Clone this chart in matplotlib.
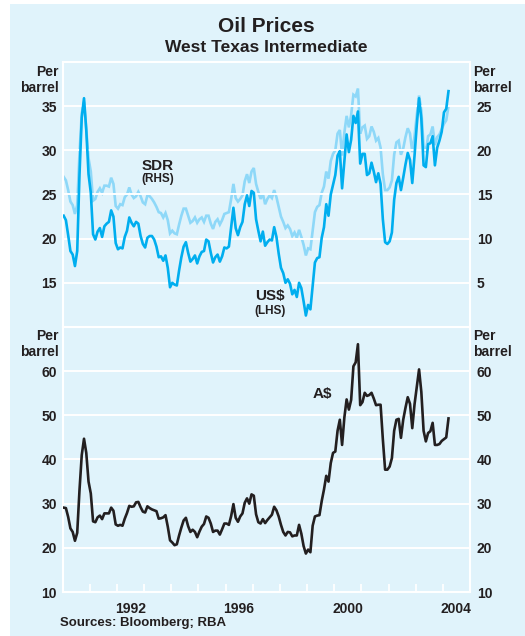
import matplotlib
matplotlib.use('Agg')
import matplotlib.pyplot as plt
import numpy as np
from matplotlib.patches import Rectangle

plt.rcParams['font.family'] = ['Liberation Sans', 'DejaVu Sans']
plt.rcParams['font.weight'] = 'bold'

# ---------------- data (monthly, Jan 1990 - Mar 2004) ----------------
start_year = 1990
us_dollar = [
    22.6, 22.1, 20.4, 18.6, 18.2, 16.9, 18.6, 27.2, 33.7, 35.9, 32.3, 27.3,
    25.2, 20.5, 19.9, 20.8, 21.2, 20.2, 21.4, 21.7, 21.9, 23.2, 22.5, 19.5,
    18.8, 19.0, 18.9, 20.2, 20.9, 22.4, 21.8, 21.4, 21.9, 21.7, 20.3, 19.4,
    19.0, 20.1, 20.3, 20.3, 19.9, 19.1, 17.9, 18.0, 17.5, 18.1, 16.7, 14.5,
    15.0, 14.8, 14.7, 16.4, 17.9, 19.1, 19.6, 18.4, 17.4, 17.7, 18.1, 17.2,
    18.0, 18.5, 18.6, 19.9, 19.7, 18.4, 17.3, 17.9, 18.2, 17.4, 18.0, 19.0,
    18.9, 19.1, 21.3, 23.5, 21.2, 20.4, 21.3, 21.9, 23.9, 24.9, 23.7, 25.4,
    25.2, 22.2, 20.9, 19.7, 20.8, 19.2, 19.6, 19.9, 19.8, 21.3, 20.2, 18.3,
    16.7, 16.1, 15.0, 15.4, 14.9, 13.7, 14.2, 13.4, 15.0, 14.4, 12.9, 11.3,
    12.5, 12.0, 14.7, 17.3, 17.8, 17.9, 20.1, 21.3, 23.9, 22.6, 25.0, 26.1,
    27.2, 29.4, 29.9, 25.7, 28.8, 31.8, 29.8, 31.2, 33.9, 33.1, 34.4, 28.5,
    29.6, 29.6, 27.2, 27.4, 28.6, 27.6, 26.4, 27.4, 26.2, 22.2, 19.6, 19.4,
    19.7, 20.7, 24.4, 26.3, 27.0, 25.5, 26.9, 28.4, 29.7, 28.9, 26.3, 29.4,
    32.9, 35.9, 33.6, 28.3, 28.1, 30.7, 30.8, 31.6, 28.3, 30.3, 31.1, 32.1,
    34.3, 34.7, 36.7,
]
sdr = [
    17.0, 16.6, 15.5, 14.2, 13.8, 12.8, 13.8, 19.6, 24.2, 25.5, 22.4, 19.1,
    17.6, 14.3, 14.5, 15.3, 15.7, 15.2, 16.0, 16.0, 15.9, 16.9, 16.2, 13.7,
    13.4, 13.9, 13.8, 14.7, 15.0, 15.8, 15.0, 14.6, 14.8, 15.3, 14.8, 14.1,
    13.9, 14.9, 14.8, 14.5, 14.1, 13.6, 13.0, 12.9, 12.4, 12.9, 12.1, 10.6,
    10.9, 10.6, 10.5, 11.6, 12.6, 13.4, 13.4, 12.6, 11.8, 12.0, 12.4, 11.8,
    12.2, 12.4, 11.9, 12.6, 12.6, 11.7, 11.1, 11.9, 12.2, 11.6, 12.1, 12.8,
    12.9, 13.0, 14.5, 16.2, 14.6, 14.2, 14.5, 14.9, 16.5, 17.3, 16.3, 17.6,
    18.0, 16.2, 15.3, 14.5, 15.1, 13.9, 14.5, 14.9, 14.6, 15.5, 14.7, 13.6,
    12.5, 11.9, 11.2, 11.5, 11.1, 10.3, 10.7, 10.1, 11.0, 10.2, 9.3, 8.1,
    8.9, 8.8, 10.9, 13.0, 13.6, 13.8, 15.2, 15.9, 17.6, 16.8, 18.8, 19.6,
    20.0, 21.9, 22.3, 19.4, 22.0, 23.9, 22.6, 24.0, 26.3, 26.1, 27.0, 21.9,
    22.6, 22.8, 21.3, 21.6, 22.7, 22.1, 21.1, 21.4, 20.3, 17.3, 15.5, 15.5,
    15.8, 16.6, 19.5, 20.9, 21.1, 19.5, 20.2, 21.5, 22.5, 21.9, 19.8, 21.6,
    24.0, 26.2, 24.5, 20.5, 19.8, 21.6, 21.8, 22.7, 20.6, 21.5, 21.8, 22.4,
    23.0, 23.4, 25.0,
]
a_dollar = [
    29.1, 29.0, 27.0, 24.4, 23.6, 21.6, 23.4, 33.0, 41.0, 44.7, 41.5, 35.0,
    32.3, 26.0, 25.8, 26.9, 27.3, 26.5, 27.8, 27.8, 27.8, 29.1, 28.4, 25.3,
    25.0, 25.2, 25.0, 26.6, 27.9, 29.5, 29.3, 29.4, 30.3, 30.4, 29.2, 28.2,
    28.0, 29.4, 29.0, 28.7, 28.5, 28.3, 26.6, 26.7, 26.9, 27.4, 24.8, 21.7,
    21.2, 20.6, 20.8, 22.8, 24.6, 26.2, 26.8, 24.9, 23.6, 24.1, 23.6, 22.4,
    23.7, 24.8, 25.4, 27.1, 26.8, 25.5, 23.6, 23.9, 23.9, 23.0, 24.2, 25.5,
    25.5, 25.2, 27.2, 29.9, 26.8, 25.9, 27.1, 27.8, 30.2, 31.2, 30.0, 32.1,
    31.8, 27.6, 25.8, 25.5, 26.5, 25.6, 26.3, 26.9, 27.5, 29.3, 28.5, 27.1,
    25.2, 23.6, 22.8, 23.6, 23.5, 22.6, 22.8, 22.8, 25.2, 23.2, 20.4, 18.7,
    19.6, 19.0, 25.0, 27.1, 27.3, 27.4, 30.6, 33.2, 36.3, 35.0, 39.2, 41.5,
    41.8, 46.5, 49.0, 43.3, 49.5, 53.6, 51.3, 53.5, 61.1, 62.0, 66.1, 52.3,
    53.0, 55.1, 54.4, 54.6, 55.1, 53.8, 52.3, 52.4, 52.4, 44.6, 37.7, 37.7,
    38.4, 40.3, 46.5, 49.0, 49.2, 44.9, 49.0, 51.7, 54.1, 52.6, 47.1, 52.5,
    56.5, 60.4, 55.3, 46.5, 44.1, 46.0, 46.4, 48.3, 43.3, 43.3, 43.5, 44.2,
    44.6, 45.0, 49.3,
]
year_ticks = list(range(1991, 2005))
year_labels = ['1992', '1996', '2000', '2004']
top_left_ticks = [15, 20, 25, 30, 35]
top_right_ticks = [5, 10, 15, 20, 25]
bot_ticks = [10, 20, 30, 40, 50, 60]

# ---------------- styling ----------------
BG = '#e0f3fb'
TXT = '#231f20'
US_COL = '#00aeef'
SDR_COL = '#8ed8f8'
AUD_COL = '#231f20'

W, H = 525, 636
fig = plt.figure(figsize=(W / 100, H / 100), dpi=100, facecolor='white')
fig.patches.append(Rectangle((10 / W, 0), 1, 1 - 4 / H, transform=fig.transFigure,
                             facecolor=BG, edgecolor='none', zorder=-10))

n = len(us_dollar)
t = start_year + (np.arange(n) + 0.5) / 12.0

L, R = 62.5, 470
ax1 = fig.add_axes([L / W, 1 - 327 / H, (R - L) / W, (327 - 62) / H])
ax2 = fig.add_axes([L / W, 1 - 592 / H, (R - L) / W, (592 - 327) / H])


def style(ax):
    ax.set_facecolor(BG)
    for s in ax.spines.values():
        s.set_color('white')
        s.set_linewidth(1.5)
    ax.set_xlim(1990, 2005)


style(ax1)
style(ax2)

# top panel
ax1.set_ylim(10, 40)
ax1.set_yticks(top_left_ticks)
for v in top_left_ticks:
    ax1.axhline(v, color='white', lw=1.4, zorder=0)
ax1.tick_params(axis='y', length=0, labelsize=10, colors=TXT, pad=4)
ax1.tick_params(axis='x', length=0, labelbottom=False)
ax1r = ax1.twinx()
ax1r.set_ylim(0, 30)
ax1r.set_yticks(top_right_ticks)
ax1r.tick_params(axis='y', length=0, labelsize=10, colors=TXT, pad=5)
for s in ax1r.spines.values():
    s.set_visible(False)

ax1r.plot(t, sdr, color=SDR_COL, lw=1.9, solid_joinstyle='miter', zorder=2)
ax1.set_zorder(ax1r.get_zorder() + 1)
ax1.patch.set_visible(False)
ax1r.patch.set_visible(True)
ax1r.patch.set_facecolor(BG)
ax1.plot(t, us_dollar, color=US_COL, lw=1.9, zorder=3)

ax1.text(1993.5, 28.2, 'SDR', ha='center', va='center', fontsize=11, color=TXT)
ax1.text(1993.5, 26.7, '(RHS)', ha='center', va='center', fontsize=8.5, color=TXT)
ax1.text(1997.65, 13.5, 'US$', ha='center', va='center', fontsize=11, color=TXT)
ax1.text(1997.65, 11.8, '(LHS)', ha='center', va='center', fontsize=8.5, color=TXT)

# bottom panel
ax2.set_ylim(10, 70)
ax2.set_yticks(bot_ticks)
for v in bot_ticks[1:]:
    ax2.axhline(v, color='white', lw=1.4, zorder=0)
ax2.tick_params(axis='y', length=0, labelsize=10, colors=TXT, pad=4)
ax2.plot(t, a_dollar, color=AUD_COL, lw=1.9, zorder=3)
ax2.text(1999.55, 54.9, 'A$', ha='center', va='center', fontsize=11, color=TXT)

ax2.set_xticks(year_ticks)
ax2.set_xticklabels([])
ax2.tick_params(axis='x', which='major', direction='in', length=6, width=1.3,
                color='white')
ax2.set_xticks([int(y) + 0.5 for y in year_labels], minor=True)
ax2.set_xticklabels(year_labels, minor=True)
ax2.tick_params(axis='x', which='minor', length=0, labelsize=10, colors=TXT, pad=7)

ax2r = ax2.twinx()
ax2r.set_ylim(10, 70)
ax2r.set_yticks(bot_ticks)
ax2r.tick_params(axis='y', length=0, labelsize=10, colors=TXT, pad=5)
for s in ax2r.spines.values():
    s.set_visible(False)

# titles and unit labels
fig.text(266 / W, 1 - 27 / H, 'Oil Prices', ha='center', va='center', fontsize=15, color=TXT)
fig.text(266 / W, 1 - 48 / H, 'West Texas Intermediate', ha='center', va='center',
         fontsize=12.5, color=TXT)
for yy in (72, 336):
    fig.text(59 / W, 1 - yy / H, 'Per', ha='right', va='center', fontsize=10, color=TXT)
    fig.text(59 / W, 1 - (yy + 15.5) / H, 'barrel', ha='right', va='center', fontsize=10, color=TXT)
    fig.text(473 / W, 1 - yy / H, 'Per', ha='left', va='center', fontsize=10, color=TXT)
    fig.text(473 / W, 1 - (yy + 15.5) / H, 'barrel', ha='left', va='center', fontsize=10, color=TXT)
fig.text(60 / W, 1 - 623 / H, 'Sources: Bloomberg; RBA', ha='left', va='center',
         fontsize=9.5, color=TXT)

fig.savefig('out.png', dpi=100, facecolor=fig.get_facecolor())
